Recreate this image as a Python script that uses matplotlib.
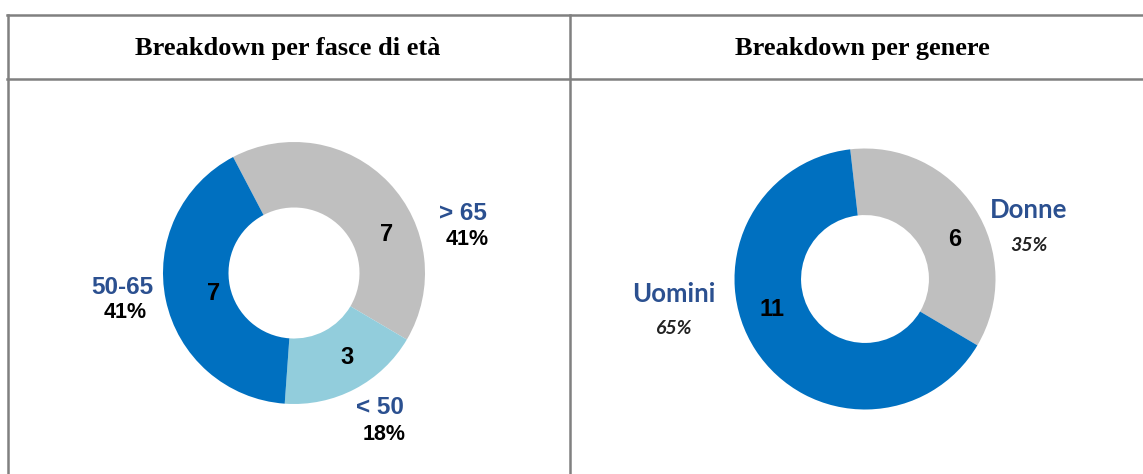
import matplotlib.pyplot as plt

# Data
age_labels = ['> 65', '< 50', '50-65']
age_values = [7, 3, 7]
age_pct = ['41%', '18%', '41%']

gender_labels = ['Donne', 'Uomini']
gender_values = [6, 11]
gender_pct = ['35%', '65%']

titles = ['Breakdown per fasce di età', 'Breakdown per genere']

BLUE = '#0070C0'
GREY = '#BFBFBF'
LIGHT = '#92CDDC'
NAVY = '#2B5090'

W, H = 1143, 474
fig = plt.figure(figsize=(W / 100, H / 100), dpi=100)


def donut(cx, cy, r, values, colors, start, width):
    ax = fig.add_axes([(cx - r) / W, (H - cy - r) / H, 2 * r / W, 2 * r / H])
    ax.pie(values, colors=colors, startangle=start, counterclock=False,
           wedgeprops=dict(width=width, edgecolor='none'))
    ax.set_xlim(-1, 1)
    ax.set_ylim(-1, 1)
    ax.axis('off')
    return ax


donut(294, 273, 131, age_values, [GREY, LIGHT, BLUE], 117.7, 0.5)
donut(865, 279, 130.5, gender_values, [GREY, BLUE], 96.5, 0.51)

# overlay axes in pixel coordinates for the table and labels (on top)
bg = fig.add_axes([0, 0, 1, 1])
bg.set_xlim(0, W)
bg.set_ylim(H, 0)
bg.patch.set_alpha(0)
bg.axis('off')

line_kw = dict(color='#808080', lw=1.8)
bg.plot([7, W], [15, 15], **line_kw)
bg.plot([7, W], [79, 79], **line_kw)
bg.plot([7.5, 7.5], [15, H], **line_kw)
bg.plot([570, 570], [15, H], **line_kw)

bg.text(288, 48, titles[0], ha='center', va='center', fontsize=19,
        fontweight='bold', family='Liberation Serif')
bg.text(862, 48, titles[1], ha='center', va='center', fontsize=19,
        fontweight='bold', family='Liberation Serif')

# Left chart labels
num_kw = dict(ha='center', va='center', fontsize=17, fontweight='bold',
              family='Liberation Sans', color='black')
cat_kw = dict(ha='center', va='center', fontsize=17.5, fontweight='bold',
              family='Liberation Sans', color=NAVY)
pct_kw = dict(ha='center', va='center', fontsize=15.5, fontweight='bold',
              family='Liberation Sans', color='black')

bg.text(387, 234, str(age_values[0]), **num_kw)
bg.text(347, 358, str(age_values[1]), **num_kw)
bg.text(214, 294, str(age_values[2]), **num_kw)

bg.text(463, 213, age_labels[0], **cat_kw)
bg.text(467, 239, age_pct[0], **pct_kw)
bg.text(380, 408, age_labels[1], **cat_kw)
bg.text(384, 435, age_pct[1], **pct_kw)
bg.text(122, 287, age_labels[2], **cat_kw)
bg.text(125, 313, age_pct[2], **pct_kw)

# Right chart labels
bg.text(955, 239, str(gender_values[0]), **num_kw)
bg.text(772, 310, str(gender_values[1]), **num_kw)

g_kw = dict(ha='center', va='center', fontsize=18.5, fontweight='bold',
            family='Lato', color=NAVY)
gp_kw = dict(ha='center', va='center', fontsize=14, fontweight='bold',
             style='italic', family='Lato', color='#222222')
bg.text(1029, 210, gender_labels[0], **g_kw)
bg.text(1029, 245, gender_pct[0], **gp_kw)
bg.text(674, 294, gender_labels[1], **g_kw)
bg.text(673, 328, gender_pct[1], **gp_kw)

fig.savefig('out.png', dpi=100)
